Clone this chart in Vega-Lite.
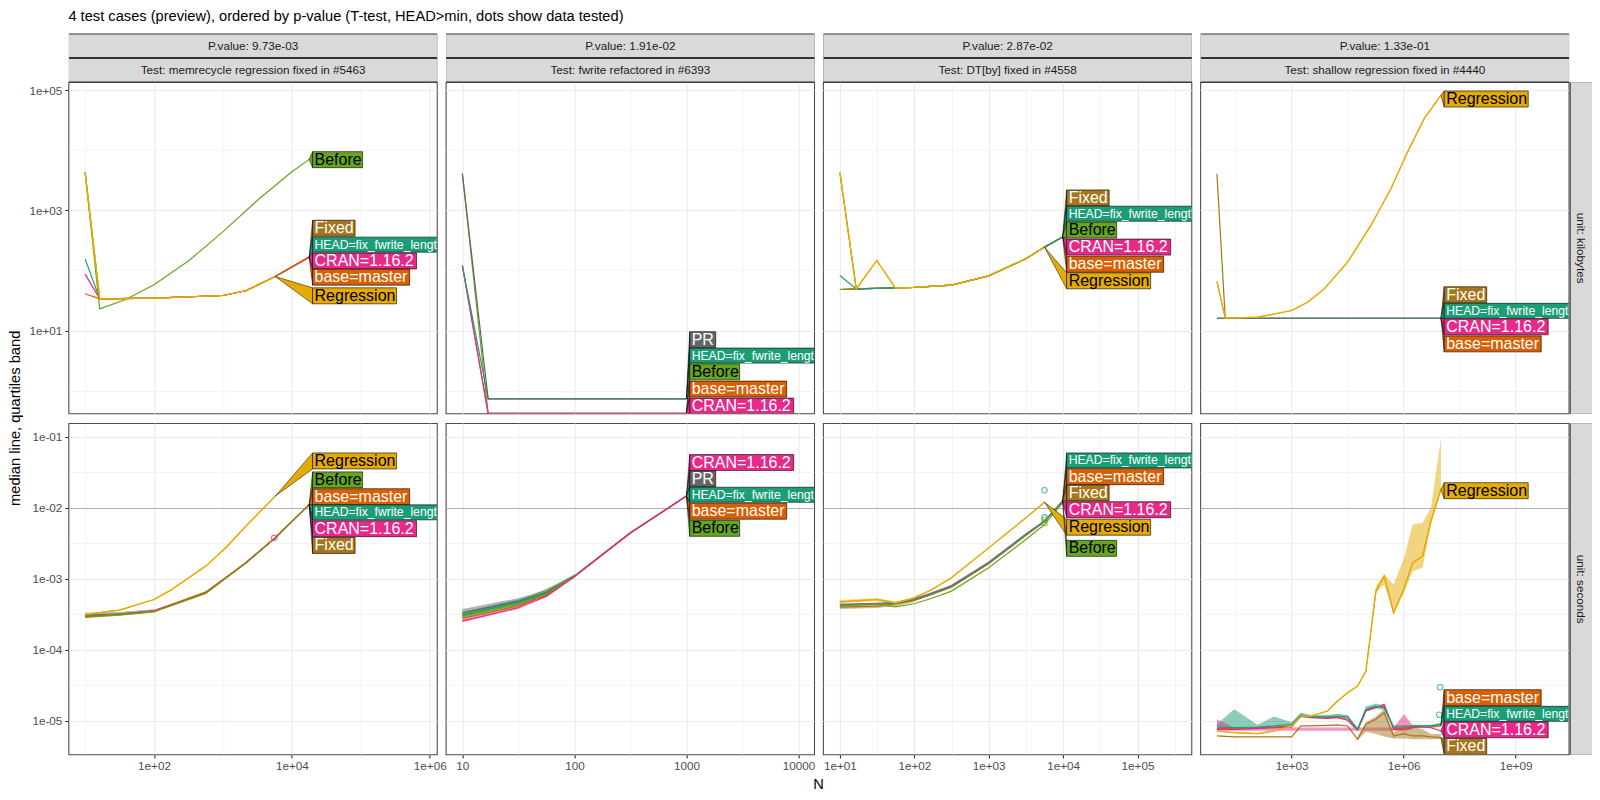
{
"$schema": "https://vega.github.io/schema/vega-lite/v6.json",
"padding": {"left": 6.4, "top": 9, "right": 5, "bottom": 5},
"background": "white",
"title": {"text": "4 test cases (preview), ordered by p-value (T-test, HEAD>min, dots show data tested)", "anchor": "start", "frame": "group", "fontSize": 14.67, "font": "Liberation Sans", "fontWeight": "normal", "color": "black", "baseline": "alphabetic", "offset": 3.8},
"config": {
  "font": "Liberation Sans",
  "view": {"stroke": "#4A4A4A", "strokeWidth": 1.07},
  "axis": {"domain": false, "gridColor": "#EBEBEB", "tickColor": "#333333", "tickSize": 3.7, "tickWidth": 1.07,
    "labelFont": "Liberation Sans", "labelFontSize": 11.7, "labelColor": "#4D4D4D", "labelOverlap": false,
    "labelFlush": false, "labelBound": false, "labelPadding": 2.9,
    "titleFont": "Liberation Sans", "titleFontWeight": "normal", "titleColor": "black", "titleFontSize": 14.67}
},
"datasets": {
"lines": [
{"p":1,"u":"kb","v":"Fixed","N":10,"y":4360},{"p":1,"u":"kb","v":"Fixed","N":16.3,"y":33.7},{"p":1,"u":"kb","v":"Fixed","N":100,"y":34.6},{"p":1,"u":"kb","v":"Fixed","N":1000,"y":38.3},{"p":1,"u":"kb","v":"Fixed","N":2148,"y":46},{"p":1,"u":"kb","v":"Fixed","N":5728,"y":79.4},{"p":1,"u":"kb","v":"Fixed","N":17820,"y":166.7},
{"p":1,"u":"kb","v":"HEAD=fix_fwrite_length","N":10,"y":156},{"p":1,"u":"kb","v":"HEAD=fix_fwrite_length","N":16.3,"y":33.7},{"p":1,"u":"kb","v":"HEAD=fix_fwrite_length","N":100,"y":34.6},{"p":1,"u":"kb","v":"HEAD=fix_fwrite_length","N":1000,"y":38.3},{"p":1,"u":"kb","v":"HEAD=fix_fwrite_length","N":2148,"y":46},{"p":1,"u":"kb","v":"HEAD=fix_fwrite_length","N":5728,"y":79.4},{"p":1,"u":"kb","v":"HEAD=fix_fwrite_length","N":17820,"y":166.7},
{"p":1,"u":"kb","v":"CRAN=1.16.2","N":10,"y":87},{"p":1,"u":"kb","v":"CRAN=1.16.2","N":16.3,"y":33.7},{"p":1,"u":"kb","v":"CRAN=1.16.2","N":100,"y":34.6},{"p":1,"u":"kb","v":"CRAN=1.16.2","N":1000,"y":38.3},{"p":1,"u":"kb","v":"CRAN=1.16.2","N":2148,"y":46},{"p":1,"u":"kb","v":"CRAN=1.16.2","N":5728,"y":79.4},{"p":1,"u":"kb","v":"CRAN=1.16.2","N":17820,"y":166.7},
{"p":1,"u":"kb","v":"base=master","N":10,"y":41},{"p":1,"u":"kb","v":"base=master","N":16.3,"y":33.7},{"p":1,"u":"kb","v":"base=master","N":100,"y":34.6},{"p":1,"u":"kb","v":"base=master","N":1000,"y":38.3},{"p":1,"u":"kb","v":"base=master","N":2148,"y":46},{"p":1,"u":"kb","v":"base=master","N":5728,"y":79.4},{"p":1,"u":"kb","v":"base=master","N":17820,"y":166.7},
{"p":1,"u":"kb","v":"Before","N":10,"y":4360},{"p":1,"u":"kb","v":"Before","N":16.3,"y":23},{"p":1,"u":"kb","v":"Before","N":38.9,"y":32.9},{"p":1,"u":"kb","v":"Before","N":100,"y":57.7},{"p":1,"u":"kb","v":"Before","N":323,"y":146.8},{"p":1,"u":"kb","v":"Before","N":983,"y":435.5},{"p":1,"u":"kb","v":"Before","N":3350,"y":1563},{"p":1,"u":"kb","v":"Before","N":9886,"y":4355},{"p":1,"u":"kb","v":"Before","N":17820,"y":7079},
{"p":1,"u":"kb","v":"Regression","N":10,"y":4360},{"p":1,"u":"kb","v":"Regression","N":16.3,"y":33.7},{"p":1,"u":"kb","v":"Regression","N":100,"y":34.6},{"p":1,"u":"kb","v":"Regression","N":1000,"y":38.3},{"p":1,"u":"kb","v":"Regression","N":2148,"y":46},{"p":1,"u":"kb","v":"Regression","N":5728,"y":79.4},

{"p":1,"u":"s","v":"HEAD=fix_fwrite_length","N":10,"y":3.06e-4},{"p":1,"u":"s","v":"HEAD=fix_fwrite_length","N":31.6,"y":3.2e-4},{"p":1,"u":"s","v":"HEAD=fix_fwrite_length","N":100,"y":3.5e-4},{"p":1,"u":"s","v":"HEAD=fix_fwrite_length","N":563.6,"y":6.3e-4},{"p":1,"u":"s","v":"HEAD=fix_fwrite_length","N":2148,"y":1.67e-3},{"p":1,"u":"s","v":"HEAD=fix_fwrite_length","N":5728,"y":3.76e-3},{"p":1,"u":"s","v":"HEAD=fix_fwrite_length","N":17820,"y":0.01104},
{"p":1,"u":"s","v":"CRAN=1.16.2","N":10,"y":2.97e-4},{"p":1,"u":"s","v":"CRAN=1.16.2","N":31.6,"y":3.16e-4},{"p":1,"u":"s","v":"CRAN=1.16.2","N":100,"y":3.55e-4},{"p":1,"u":"s","v":"CRAN=1.16.2","N":563.6,"y":6.4e-4},{"p":1,"u":"s","v":"CRAN=1.16.2","N":2148,"y":1.68e-3},{"p":1,"u":"s","v":"CRAN=1.16.2","N":5728,"y":3.75e-3},{"p":1,"u":"s","v":"CRAN=1.16.2","N":17820,"y":0.01104},
{"p":1,"u":"s","v":"base=master","N":10,"y":2.9e-4},{"p":1,"u":"s","v":"base=master","N":31.6,"y":3.12e-4},{"p":1,"u":"s","v":"base=master","N":100,"y":3.45e-4},{"p":1,"u":"s","v":"base=master","N":563.6,"y":6.5e-4},{"p":1,"u":"s","v":"base=master","N":2148,"y":1.66e-3},{"p":1,"u":"s","v":"base=master","N":5728,"y":3.74e-3},{"p":1,"u":"s","v":"base=master","N":17820,"y":0.01104},
{"p":1,"u":"s","v":"Before","N":10,"y":2.85e-4},{"p":1,"u":"s","v":"Before","N":31.6,"y":3.05e-4},{"p":1,"u":"s","v":"Before","N":100,"y":3.4e-4},{"p":1,"u":"s","v":"Before","N":563.6,"y":6.2e-4},{"p":1,"u":"s","v":"Before","N":2148,"y":1.65e-3},{"p":1,"u":"s","v":"Before","N":5728,"y":3.72e-3},{"p":1,"u":"s","v":"Before","N":17820,"y":0.01104},
{"p":1,"u":"s","v":"Fixed","N":10,"y":2.95e-4},{"p":1,"u":"s","v":"Fixed","N":31.6,"y":3.18e-4},{"p":1,"u":"s","v":"Fixed","N":100,"y":3.48e-4},{"p":1,"u":"s","v":"Fixed","N":563.6,"y":6.35e-4},{"p":1,"u":"s","v":"Fixed","N":2148,"y":1.67e-3},{"p":1,"u":"s","v":"Fixed","N":5728,"y":3.77e-3},{"p":1,"u":"s","v":"Fixed","N":17820,"y":0.01104},
{"p":1,"u":"s","v":"Regression","N":10,"y":3.14e-4},{"p":1,"u":"s","v":"Regression","N":31.6,"y":3.6e-4},{"p":1,"u":"s","v":"Regression","N":100,"y":5.09e-4},{"p":1,"u":"s","v":"Regression","N":165.6,"y":6.67e-4},{"p":1,"u":"s","v":"Regression","N":563.6,"y":1.5e-3},{"p":1,"u":"s","v":"Regression","N":1099,"y":2.72e-3},{"p":1,"u":"s","v":"Regression","N":2148,"y":5.48e-3},{"p":1,"u":"s","v":"Regression","N":5728,"y":0.01449},

{"p":2,"u":"kb","v":"Before","N":10,"y":4090},{"p":2,"u":"kb","v":"Before","N":17,"y":0.41},{"p":2,"u":"kb","v":"Before","N":1000,"y":0.41},
{"p":2,"u":"kb","v":"base=master","N":10,"y":121},{"p":2,"u":"kb","v":"base=master","N":17,"y":0.41},{"p":2,"u":"kb","v":"base=master","N":1000,"y":0.41},
{"p":2,"u":"kb","v":"CRAN=1.16.2","N":10,"y":121},{"p":2,"u":"kb","v":"CRAN=1.16.2","N":17,"y":0.42},{"p":2,"u":"kb","v":"CRAN=1.16.2","N":1000,"y":0.42},
{"p":2,"u":"kb","v":"HEAD=fix_fwrite_length","N":10,"y":121},{"p":2,"u":"kb","v":"HEAD=fix_fwrite_length","N":17,"y":0.726},{"p":2,"u":"kb","v":"HEAD=fix_fwrite_length","N":1000,"y":0.726},
{"p":2,"u":"kb","v":"PR","N":10,"y":4090},{"p":2,"u":"kb","v":"PR","N":17,"y":0.726},{"p":2,"u":"kb","v":"PR","N":1000,"y":0.726},

{"p":2,"u":"s","v":"PR","N":10,"y":3.311e-4},{"p":2,"u":"s","v":"PR","N":31.6,"y":4.831e-4},{"p":2,"u":"s","v":"PR","N":56.2,"y":6.31e-4},{"p":2,"u":"s","v":"PR","N":100,"y":1.086e-3},{"p":2,"u":"s","v":"PR","N":316,"y":4.426e-3},{"p":2,"u":"s","v":"PR","N":1000,"y":0.01452},
{"p":2,"u":"s","v":"HEAD=fix_fwrite_length","N":10,"y":3.062e-4},{"p":2,"u":"s","v":"HEAD=fix_fwrite_length","N":31.6,"y":4.677e-4},{"p":2,"u":"s","v":"HEAD=fix_fwrite_length","N":56.2,"y":6.2e-4},{"p":2,"u":"s","v":"HEAD=fix_fwrite_length","N":100,"y":1.09e-3},{"p":2,"u":"s","v":"HEAD=fix_fwrite_length","N":316,"y":4.45e-3},{"p":2,"u":"s","v":"HEAD=fix_fwrite_length","N":1000,"y":0.01452},
{"p":2,"u":"s","v":"Before","N":10,"y":2.972e-4},{"p":2,"u":"s","v":"Before","N":31.6,"y":4.365e-4},{"p":2,"u":"s","v":"Before","N":56.2,"y":5.998e-4},{"p":2,"u":"s","v":"Before","N":100,"y":1.08e-3},{"p":2,"u":"s","v":"Before","N":316,"y":4.4e-3},{"p":2,"u":"s","v":"Before","N":1000,"y":0.01452},
{"p":2,"u":"s","v":"base=master","N":10,"y":2.754e-4},{"p":2,"u":"s","v":"base=master","N":31.6,"y":4.169e-4},{"p":2,"u":"s","v":"base=master","N":56.2,"y":5.8e-4},{"p":2,"u":"s","v":"base=master","N":100,"y":1.07e-3},{"p":2,"u":"s","v":"base=master","N":316,"y":4.38e-3},{"p":2,"u":"s","v":"base=master","N":1000,"y":0.01452},
{"p":2,"u":"s","v":"CRAN=1.16.2","N":10,"y":2.523e-4},{"p":2,"u":"s","v":"CRAN=1.16.2","N":31.6,"y":3.89e-4},{"p":2,"u":"s","v":"CRAN=1.16.2","N":56.2,"y":5.623e-4},{"p":2,"u":"s","v":"CRAN=1.16.2","N":100,"y":1.06e-3},{"p":2,"u":"s","v":"CRAN=1.16.2","N":316,"y":4.4e-3},{"p":2,"u":"s","v":"CRAN=1.16.2","N":1000,"y":0.01452},

{"p":3,"u":"kb","v":"Fixed","N":10,"y":4246},{"p":3,"u":"kb","v":"Fixed","N":16.6,"y":49.43},{"p":3,"u":"kb","v":"Fixed","N":99.1,"y":52.12},{"p":3,"u":"kb","v":"Fixed","N":316,"y":57.02},{"p":3,"u":"kb","v":"Fixed","N":1000,"y":81.47},{"p":3,"u":"kb","v":"Fixed","N":3155,"y":156.3},{"p":3,"u":"kb","v":"Fixed","N":5623,"y":244.9},{"p":3,"u":"kb","v":"Fixed","N":9863,"y":359.7},
{"p":3,"u":"kb","v":"CRAN=1.16.2","N":10,"y":48.2},{"p":3,"u":"kb","v":"CRAN=1.16.2","N":16.6,"y":49.43},{"p":3,"u":"kb","v":"CRAN=1.16.2","N":99.1,"y":52.12},{"p":3,"u":"kb","v":"CRAN=1.16.2","N":316,"y":57.02},{"p":3,"u":"kb","v":"CRAN=1.16.2","N":1000,"y":81.47},{"p":3,"u":"kb","v":"CRAN=1.16.2","N":3155,"y":156.3},{"p":3,"u":"kb","v":"CRAN=1.16.2","N":5623,"y":244.9},{"p":3,"u":"kb","v":"CRAN=1.16.2","N":9863,"y":359.7},
{"p":3,"u":"kb","v":"base=master","N":10,"y":48.2},{"p":3,"u":"kb","v":"base=master","N":16.6,"y":49.43},{"p":3,"u":"kb","v":"base=master","N":99.1,"y":52.12},{"p":3,"u":"kb","v":"base=master","N":316,"y":57.02},{"p":3,"u":"kb","v":"base=master","N":1000,"y":81.47},{"p":3,"u":"kb","v":"base=master","N":3155,"y":156.3},{"p":3,"u":"kb","v":"base=master","N":5623,"y":244.9},{"p":3,"u":"kb","v":"base=master","N":9863,"y":359.7},
{"p":3,"u":"kb","v":"Before","N":10,"y":48.2},{"p":3,"u":"kb","v":"Before","N":16.6,"y":49.43},{"p":3,"u":"kb","v":"Before","N":99.1,"y":52.12},{"p":3,"u":"kb","v":"Before","N":316,"y":57.02},{"p":3,"u":"kb","v":"Before","N":1000,"y":81.47},{"p":3,"u":"kb","v":"Before","N":3155,"y":156.3},{"p":3,"u":"kb","v":"Before","N":5623,"y":244.9},{"p":3,"u":"kb","v":"Before","N":9863,"y":359.7},
{"p":3,"u":"kb","v":"HEAD=fix_fwrite_length","N":10,"y":82.6},{"p":3,"u":"kb","v":"HEAD=fix_fwrite_length","N":16.6,"y":49.43},{"p":3,"u":"kb","v":"HEAD=fix_fwrite_length","N":99.1,"y":52.12},{"p":3,"u":"kb","v":"HEAD=fix_fwrite_length","N":316,"y":57.02},{"p":3,"u":"kb","v":"HEAD=fix_fwrite_length","N":1000,"y":81.47},{"p":3,"u":"kb","v":"HEAD=fix_fwrite_length","N":3155,"y":156.3},{"p":3,"u":"kb","v":"HEAD=fix_fwrite_length","N":5623,"y":244.9},{"p":3,"u":"kb","v":"HEAD=fix_fwrite_length","N":9863,"y":359.7},
{"p":3,"u":"kb","v":"Regression","N":10,"y":4246},{"p":3,"u":"kb","v":"Regression","N":16.6,"y":49.43},{"p":3,"u":"kb","v":"Regression","N":31.3,"y":146.9},{"p":3,"u":"kb","v":"Regression","N":55.8,"y":50.82},{"p":3,"u":"kb","v":"Regression","N":99.1,"y":52.12},{"p":3,"u":"kb","v":"Regression","N":316,"y":57.02},{"p":3,"u":"kb","v":"Regression","N":1000,"y":81.47},{"p":3,"u":"kb","v":"Regression","N":3155,"y":156.3},{"p":3,"u":"kb","v":"Regression","N":5623,"y":244.9},

{"p":3,"u":"s","v":"Fixed","N":10,"y":3.98e-4},{"p":3,"u":"s","v":"Fixed","N":31.3,"y":4.1e-4},{"p":3,"u":"s","v":"Fixed","N":55.8,"y":4.4e-4},{"p":3,"u":"s","v":"Fixed","N":99.1,"y":4.9e-4},{"p":3,"u":"s","v":"Fixed","N":173,"y":6.0e-4},{"p":3,"u":"s","v":"Fixed","N":316,"y":7.6e-4},{"p":3,"u":"s","v":"Fixed","N":1000,"y":1.62e-3},{"p":3,"u":"s","v":"Fixed","N":3155,"y":4.05e-3},{"p":3,"u":"s","v":"Fixed","N":5623,"y":6.3e-3},{"p":3,"u":"s","v":"Fixed","N":9863,"y":0.0123},
{"p":3,"u":"s","v":"base=master","N":10,"y":4.2e-4},{"p":3,"u":"s","v":"base=master","N":31.3,"y":4.4e-4},{"p":3,"u":"s","v":"base=master","N":55.8,"y":4.5e-4},{"p":3,"u":"s","v":"base=master","N":99.1,"y":5.0e-4},{"p":3,"u":"s","v":"base=master","N":173,"y":6.1e-4},{"p":3,"u":"s","v":"base=master","N":316,"y":7.7e-4},{"p":3,"u":"s","v":"base=master","N":1000,"y":1.65e-3},{"p":3,"u":"s","v":"base=master","N":3155,"y":4.1e-3},{"p":3,"u":"s","v":"base=master","N":5623,"y":6.35e-3},{"p":3,"u":"s","v":"base=master","N":9863,"y":0.0123},
{"p":3,"u":"s","v":"CRAN=1.16.2","N":10,"y":4.35e-4},{"p":3,"u":"s","v":"CRAN=1.16.2","N":31.3,"y":4.5e-4},{"p":3,"u":"s","v":"CRAN=1.16.2","N":55.8,"y":4.6e-4},{"p":3,"u":"s","v":"CRAN=1.16.2","N":99.1,"y":5.2e-4},{"p":3,"u":"s","v":"CRAN=1.16.2","N":173,"y":6.3e-4},{"p":3,"u":"s","v":"CRAN=1.16.2","N":316,"y":8.0e-4},{"p":3,"u":"s","v":"CRAN=1.16.2","N":1000,"y":1.70e-3},{"p":3,"u":"s","v":"CRAN=1.16.2","N":3155,"y":4.25e-3},{"p":3,"u":"s","v":"CRAN=1.16.2","N":5623,"y":6.5e-3},{"p":3,"u":"s","v":"CRAN=1.16.2","N":9863,"y":0.0123},
{"p":3,"u":"s","v":"HEAD=fix_fwrite_length","N":10,"y":4.276e-4},{"p":3,"u":"s","v":"HEAD=fix_fwrite_length","N":31.3,"y":4.426e-4},{"p":3,"u":"s","v":"HEAD=fix_fwrite_length","N":55.8,"y":4.571e-4},{"p":3,"u":"s","v":"HEAD=fix_fwrite_length","N":99.1,"y":5.093e-4},{"p":3,"u":"s","v":"HEAD=fix_fwrite_length","N":173,"y":6.2e-4},{"p":3,"u":"s","v":"HEAD=fix_fwrite_length","N":316,"y":7.834e-4},{"p":3,"u":"s","v":"HEAD=fix_fwrite_length","N":1000,"y":1.671e-3},{"p":3,"u":"s","v":"HEAD=fix_fwrite_length","N":3155,"y":4.178e-3},{"p":3,"u":"s","v":"HEAD=fix_fwrite_length","N":5623,"y":6.427e-3},{"p":3,"u":"s","v":"HEAD=fix_fwrite_length","N":9863,"y":0.0123},
{"p":3,"u":"s","v":"Before","N":10,"y":4.14e-4},{"p":3,"u":"s","v":"Before","N":31.3,"y":4.365e-4},{"p":3,"u":"s","v":"Before","N":55.8,"y":4.009e-4},{"p":3,"u":"s","v":"Before","N":99.1,"y":4.426e-4},{"p":3,"u":"s","v":"Before","N":173,"y":5.3e-4},{"p":3,"u":"s","v":"Before","N":316,"y":6.668e-4},{"p":3,"u":"s","v":"Before","N":1000,"y":1.419e-3},{"p":3,"u":"s","v":"Before","N":3155,"y":3.548e-3},{"p":3,"u":"s","v":"Before","N":5623,"y":5.768e-3},{"p":3,"u":"s","v":"Before","N":9863,"y":0.01167},
{"p":3,"u":"s","v":"Regression","N":10,"y":4.721e-4},{"p":3,"u":"s","v":"Regression","N":31.3,"y":5.093e-4},{"p":3,"u":"s","v":"Regression","N":55.8,"y":4.571e-4},{"p":3,"u":"s","v":"Regression","N":99.1,"y":5.37e-4},{"p":3,"u":"s","v":"Regression","N":173,"y":7.031e-4},{"p":3,"u":"s","v":"Regression","N":316,"y":1.026e-3},{"p":3,"u":"s","v":"Regression","N":1000,"y":2.71e-3},{"p":3,"u":"s","v":"Regression","N":3155,"y":7.161e-3},{"p":3,"u":"s","v":"Regression","N":5623,"y":0.01189},

{"p":4,"u":"kb","v":"Fixed","N":10,"y":4085},{"p":4,"u":"kb","v":"Fixed","N":16.7,"y":16.03},{"p":4,"u":"kb","v":"Fixed","N":1e7,"y":16.03},
{"p":4,"u":"kb","v":"base=master","N":10,"y":16.03},{"p":4,"u":"kb","v":"base=master","N":1e7,"y":16.03},
{"p":4,"u":"kb","v":"CRAN=1.16.2","N":10,"y":16.03},{"p":4,"u":"kb","v":"CRAN=1.16.2","N":1e7,"y":16.03},
{"p":4,"u":"kb","v":"HEAD=fix_fwrite_length","N":10,"y":16.03},{"p":4,"u":"kb","v":"HEAD=fix_fwrite_length","N":1e7,"y":16.03},
{"p":4,"u":"kb","v":"Regression","N":10,"y":65.6},{"p":4,"u":"kb","v":"Regression","N":16.7,"y":16.03},{"p":4,"u":"kb","v":"Regression","N":122.5,"y":16.67},{"p":4,"u":"kb","v":"Regression","N":1000,"y":21.53},{"p":4,"u":"kb","v":"Regression","N":2679,"y":29.65},{"p":4,"u":"kb","v":"Regression","N":7482,"y":49.43},{"p":4,"u":"kb","v":"Regression","N":31623,"y":137.7},{"p":4,"u":"kb","v":"Regression","N":133352,"y":562.3},{"p":4,"u":"kb","v":"Regression","N":457088,"y":2296},{"p":4,"u":"kb","v":"Regression","N":1276439,"y":9376},{"p":4,"u":"kb","v":"Regression","N":3572728,"y":33729},{"p":4,"u":"kb","v":"Regression","N":1e7,"y":82604},

{"p":4,"u":"s","v":"Fixed","N":10,"y":6.095e-6},{"p":4,"u":"s","v":"Fixed","N":29.2,"y":5.902e-6},{"p":4,"u":"s","v":"Fixed","N":122.5,"y":5.902e-6},{"p":4,"u":"s","v":"Fixed","N":342,"y":5.902e-6},{"p":4,"u":"s","v":"Fixed","N":1000,"y":5.902e-6},{"p":4,"u":"s","v":"Fixed","N":1778,"y":8.433e-6},{"p":4,"u":"s","v":"Fixed","N":3289,"y":8.433e-6},{"p":4,"u":"s","v":"Fixed","N":9204,"y":8.61e-6},{"p":4,"u":"s","v":"Fixed","N":17061,"y":8.71e-6},{"p":4,"u":"s","v":"Fixed","N":31623,"y":8.433e-6},{"p":4,"u":"s","v":"Fixed","N":58614,"y":5.47e-6},{"p":4,"u":"s","v":"Fixed","N":97949,"y":8.913e-6},{"p":4,"u":"s","v":"Fixed","N":181552,"y":1.047e-5},{"p":4,"u":"s","v":"Fixed","N":301995,"y":1.297e-5},{"p":4,"u":"s","v":"Fixed","N":539510,"y":6.095e-6},{"p":4,"u":"s","v":"Fixed","N":1037528,"y":6.577e-6},{"p":4,"u":"s","v":"Fixed","N":1741810,"y":6.095e-6},{"p":4,"u":"s","v":"Fixed","N":3228494,"y":6.095e-6},{"p":4,"u":"s","v":"Fixed","N":5382698,"y":5.902e-6},{"p":4,"u":"s","v":"Fixed","N":1e7,"y":5.768e-6},
{"p":4,"u":"s","v":"base=master","N":10,"y":7.8e-6},{"p":4,"u":"s","v":"base=master","N":29.2,"y":7.7e-6},{"p":4,"u":"s","v":"base=master","N":122.5,"y":8.0e-6},{"p":4,"u":"s","v":"base=master","N":342,"y":8.1e-6},{"p":4,"u":"s","v":"base=master","N":1000,"y":8.4e-6},{"p":4,"u":"s","v":"base=master","N":1778,"y":1.18e-5},{"p":4,"u":"s","v":"base=master","N":3289,"y":1.12e-5},{"p":4,"u":"s","v":"base=master","N":9204,"y":1.1e-5},{"p":4,"u":"s","v":"base=master","N":17061,"y":1.12e-5},{"p":4,"u":"s","v":"base=master","N":31623,"y":1.05e-5},{"p":4,"u":"s","v":"base=master","N":58614,"y":7.5e-6},{"p":4,"u":"s","v":"base=master","N":97949,"y":1.4e-5},{"p":4,"u":"s","v":"base=master","N":181552,"y":1.56e-5},{"p":4,"u":"s","v":"base=master","N":301995,"y":1.6e-5},{"p":4,"u":"s","v":"base=master","N":539510,"y":7.8e-6},{"p":4,"u":"s","v":"base=master","N":1037528,"y":7.7e-6},{"p":4,"u":"s","v":"base=master","N":1741810,"y":8.2e-6},{"p":4,"u":"s","v":"base=master","N":3228494,"y":8.3e-6},{"p":4,"u":"s","v":"base=master","N":5382698,"y":8.1e-6},{"p":4,"u":"s","v":"base=master","N":1e7,"y":8.433e-6},
{"p":4,"u":"s","v":"CRAN=1.16.2","N":10,"y":7.568e-6},{"p":4,"u":"s","v":"CRAN=1.16.2","N":29.2,"y":7.568e-6},{"p":4,"u":"s","v":"CRAN=1.16.2","N":122.5,"y":7.816e-6},{"p":4,"u":"s","v":"CRAN=1.16.2","N":342,"y":7.98e-6},{"p":4,"u":"s","v":"CRAN=1.16.2","N":1000,"y":8.147e-6},{"p":4,"u":"s","v":"CRAN=1.16.2","N":1778,"y":1.164e-5},{"p":4,"u":"s","v":"CRAN=1.16.2","N":3289,"y":1.104e-5},{"p":4,"u":"s","v":"CRAN=1.16.2","N":9204,"y":1.081e-5},{"p":4,"u":"s","v":"CRAN=1.16.2","N":17061,"y":1.104e-5},{"p":4,"u":"s","v":"CRAN=1.16.2","N":31623,"y":1.014e-5},{"p":4,"u":"s","v":"CRAN=1.16.2","N":58614,"y":7.328e-6},{"p":4,"u":"s","v":"CRAN=1.16.2","N":97949,"y":1.368e-5},{"p":4,"u":"s","v":"CRAN=1.16.2","N":181552,"y":1.524e-5},{"p":4,"u":"s","v":"CRAN=1.16.2","N":301995,"y":1.698e-5},{"p":4,"u":"s","v":"CRAN=1.16.2","N":539510,"y":7.568e-6},{"p":4,"u":"s","v":"CRAN=1.16.2","N":1037528,"y":7.568e-6},{"p":4,"u":"s","v":"CRAN=1.16.2","N":1741810,"y":7.98e-6},{"p":4,"u":"s","v":"CRAN=1.16.2","N":3228494,"y":8.147e-6},{"p":4,"u":"s","v":"CRAN=1.16.2","N":5382698,"y":7.98e-6},{"p":4,"u":"s","v":"CRAN=1.16.2","N":1e7,"y":7.161e-6},
{"p":4,"u":"s","v":"HEAD=fix_fwrite_length","N":10,"y":8.147e-6},{"p":4,"u":"s","v":"HEAD=fix_fwrite_length","N":29.2,"y":7.98e-6},{"p":4,"u":"s","v":"HEAD=fix_fwrite_length","N":122.5,"y":8.147e-6},{"p":4,"u":"s","v":"HEAD=fix_fwrite_length","N":342,"y":8.433e-6},{"p":4,"u":"s","v":"HEAD=fix_fwrite_length","N":1000,"y":8.913e-6},{"p":4,"u":"s","v":"HEAD=fix_fwrite_length","N":1778,"y":1.205e-5},{"p":4,"u":"s","v":"HEAD=fix_fwrite_length","N":3289,"y":1.13e-5},{"p":4,"u":"s","v":"HEAD=fix_fwrite_length","N":9204,"y":1.13e-5},{"p":4,"u":"s","v":"HEAD=fix_fwrite_length","N":17061,"y":1.164e-5},{"p":4,"u":"s","v":"HEAD=fix_fwrite_length","N":31623,"y":1.13e-5},{"p":4,"u":"s","v":"HEAD=fix_fwrite_length","N":58614,"y":7.568e-6},{"p":4,"u":"s","v":"HEAD=fix_fwrite_length","N":97949,"y":1.445e-5},{"p":4,"u":"s","v":"HEAD=fix_fwrite_length","N":181552,"y":1.607e-5},{"p":4,"u":"s","v":"HEAD=fix_fwrite_length","N":301995,"y":1.524e-5},{"p":4,"u":"s","v":"HEAD=fix_fwrite_length","N":539510,"y":8.147e-6},{"p":4,"u":"s","v":"HEAD=fix_fwrite_length","N":1037528,"y":8.147e-6},{"p":4,"u":"s","v":"HEAD=fix_fwrite_length","N":1741810,"y":8.433e-6},{"p":4,"u":"s","v":"HEAD=fix_fwrite_length","N":3228494,"y":8.433e-6},{"p":4,"u":"s","v":"HEAD=fix_fwrite_length","N":5382698,"y":8.433e-6},{"p":4,"u":"s","v":"HEAD=fix_fwrite_length","N":1e7,"y":8.913e-6},
{"p":4,"u":"s","v":"Regression","N":10,"y":7.161e-6},{"p":4,"u":"s","v":"Regression","N":29.2,"y":6.792e-6},{"p":4,"u":"s","v":"Regression","N":122.5,"y":6.577e-6},{"p":4,"u":"s","v":"Regression","N":342,"y":7.161e-6},{"p":4,"u":"s","v":"Regression","N":1000,"y":8.433e-6},{"p":4,"u":"s","v":"Regression","N":1778,"y":1.164e-5},{"p":4,"u":"s","v":"Regression","N":3289,"y":1.164e-5},{"p":4,"u":"s","v":"Regression","N":9204,"y":1.368e-5},{"p":4,"u":"s","v":"Regression","N":17061,"y":1.892e-5},{"p":4,"u":"s","v":"Regression","N":31623,"y":2.477e-5},{"p":4,"u":"s","v":"Regression","N":58614,"y":3.069e-5},{"p":4,"u":"s","v":"Regression","N":97949,"y":4.989e-5},{"p":4,"u":"s","v":"Regression","N":181552,"y":6.653e-4},{"p":4,"u":"s","v":"Regression","N":301995,"y":1.081e-3},{"p":4,"u":"s","v":"Regression","N":539510,"y":3.296e-4},{"p":4,"u":"s","v":"Regression","N":1037528,"y":7.413e-4},{"p":4,"u":"s","v":"Regression","N":1741810,"y":1.671e-3},{"p":4,"u":"s","v":"Regression","N":3228494,"y":2.07e-3},{"p":4,"u":"s","v":"Regression","N":5382698,"y":6.427e-3},{"p":4,"u":"s","v":"Regression","N":1e7,"y":0.01795}
],
"bands": [
{"p":1,"u":"s","v":"HEAD=fix_fwrite_length","N":10,"y":2.9e-4,"y2":3.3e-4},{"p":1,"u":"s","v":"HEAD=fix_fwrite_length","N":31.6,"y":3.05e-4,"y2":3.4e-4},{"p":1,"u":"s","v":"HEAD=fix_fwrite_length","N":100,"y":3.4e-4,"y2":3.7e-4},
{"p":2,"u":"s","v":"PR","N":10,"y":3.0e-4,"y2":3.75e-4},{"p":2,"u":"s","v":"PR","N":31.6,"y":4.4e-4,"y2":5.3e-4},{"p":2,"u":"s","v":"PR","N":56.2,"y":5.8e-4,"y2":6.9e-4},{"p":2,"u":"s","v":"PR","N":100,"y":1.04e-3,"y2":1.13e-3},
{"p":2,"u":"s","v":"HEAD=fix_fwrite_length","N":10,"y":2.8e-4,"y2":3.4e-4},{"p":2,"u":"s","v":"HEAD=fix_fwrite_length","N":31.6,"y":4.3e-4,"y2":5.1e-4},{"p":2,"u":"s","v":"HEAD=fix_fwrite_length","N":56.2,"y":5.8e-4,"y2":6.9e-4},{"p":2,"u":"s","v":"HEAD=fix_fwrite_length","N":100,"y":1.04e-3,"y2":1.15e-3},
{"p":2,"u":"s","v":"Before","N":10,"y":2.7e-4,"y2":3.3e-4},{"p":2,"u":"s","v":"Before","N":31.6,"y":4.0e-4,"y2":4.8e-4},{"p":2,"u":"s","v":"Before","N":100,"y":1.03e-3,"y2":1.1e-3},
{"p":2,"u":"s","v":"CRAN=1.16.2","N":10,"y":2.45e-4,"y2":2.7e-4},{"p":2,"u":"s","v":"CRAN=1.16.2","N":31.6,"y":3.75e-4,"y2":4.1e-4},{"p":2,"u":"s","v":"CRAN=1.16.2","N":100,"y":1.03e-3,"y2":1.08e-3},
{"p":3,"u":"s","v":"Fixed","N":10,"y":3.75e-4,"y2":4.4e-4},{"p":3,"u":"s","v":"Fixed","N":31.3,"y":3.85e-4,"y2":4.45e-4},{"p":3,"u":"s","v":"Fixed","N":55.8,"y":4.1e-4,"y2":4.6e-4},{"p":3,"u":"s","v":"Fixed","N":99.1,"y":4.7e-4,"y2":5.1e-4},
{"p":3,"u":"s","v":"Regression","N":10,"y":4.5e-4,"y2":5.0e-4},{"p":3,"u":"s","v":"Regression","N":31.3,"y":4.8e-4,"y2":5.3e-4},{"p":3,"u":"s","v":"Regression","N":55.8,"y":4.4e-4,"y2":4.8e-4},
{"p":4,"u":"s","v":"Regression","N":97949,"y":4.5e-5,"y2":5.5e-5},{"p":4,"u":"s","v":"Regression","N":181552,"y":6.31e-4,"y2":7.94e-4},{"p":4,"u":"s","v":"Regression","N":301995,"y":8.26e-4,"y2":1.15e-3},{"p":4,"u":"s","v":"Regression","N":539510,"y":3.296e-4,"y2":8.26e-4},{"p":4,"u":"s","v":"Regression","N":1037528,"y":6.31e-4,"y2":1.963e-3},{"p":4,"u":"s","v":"Regression","N":1741810,"y":1.274e-3,"y2":5.78e-3},{"p":4,"u":"s","v":"Regression","N":3228494,"y":1.419e-3,"y2":6.095e-3},{"p":4,"u":"s","v":"Regression","N":5382698,"y":5.78e-3,"y2":9.9e-3},{"p":4,"u":"s","v":"Regression","N":1e7,"y":0.01795,"y2":0.0957},
{"p":4,"u":"s","v":"HEAD=fix_fwrite_length","N":10,"y":7.6e-6,"y2":9.0e-6},{"p":4,"u":"s","v":"HEAD=fix_fwrite_length","N":29.2,"y":7.5e-6,"y2":1.445e-5},{"p":4,"u":"s","v":"HEAD=fix_fwrite_length","N":122.5,"y":7.6e-6,"y2":8.8e-6},{"p":4,"u":"s","v":"HEAD=fix_fwrite_length","N":342,"y":7.8e-6,"y2":1.15e-5},{"p":4,"u":"s","v":"HEAD=fix_fwrite_length","N":1000,"y":8.3e-6,"y2":9.5e-6},{"p":4,"u":"s","v":"HEAD=fix_fwrite_length","N":1778,"y":1.1e-5,"y2":1.3e-5},{"p":4,"u":"s","v":"HEAD=fix_fwrite_length","N":3289,"y":1.08e-5,"y2":1.2e-5},{"p":4,"u":"s","v":"HEAD=fix_fwrite_length","N":9204,"y":1.08e-5,"y2":1.2e-5},{"p":4,"u":"s","v":"HEAD=fix_fwrite_length","N":17061,"y":1.1e-5,"y2":1.25e-5},{"p":4,"u":"s","v":"HEAD=fix_fwrite_length","N":31623,"y":1.08e-5,"y2":1.2e-5},{"p":4,"u":"s","v":"HEAD=fix_fwrite_length","N":58614,"y":7.3e-6,"y2":8.0e-6},{"p":4,"u":"s","v":"HEAD=fix_fwrite_length","N":97949,"y":1.35e-5,"y2":1.6e-5},{"p":4,"u":"s","v":"HEAD=fix_fwrite_length","N":181552,"y":1.5e-5,"y2":1.75e-5},{"p":4,"u":"s","v":"HEAD=fix_fwrite_length","N":301995,"y":1.4e-5,"y2":1.65e-5},{"p":4,"u":"s","v":"HEAD=fix_fwrite_length","N":539510,"y":7.8e-6,"y2":8.6e-6},{"p":4,"u":"s","v":"HEAD=fix_fwrite_length","N":1037528,"y":7.8e-6,"y2":8.6e-6},{"p":4,"u":"s","v":"HEAD=fix_fwrite_length","N":1741810,"y":8.1e-6,"y2":8.8e-6},{"p":4,"u":"s","v":"HEAD=fix_fwrite_length","N":3228494,"y":8.1e-6,"y2":8.8e-6},{"p":4,"u":"s","v":"HEAD=fix_fwrite_length","N":5382698,"y":8.1e-6,"y2":8.8e-6},{"p":4,"u":"s","v":"HEAD=fix_fwrite_length","N":1e7,"y":8.5e-6,"y2":9.4e-6},
{"p":4,"u":"s","v":"CRAN=1.16.2","N":10,"y":7.2e-6,"y2":1.05e-5},{"p":4,"u":"s","v":"CRAN=1.16.2","N":29.2,"y":7.2e-6,"y2":8.0e-6},{"p":4,"u":"s","v":"CRAN=1.16.2","N":539510,"y":7.2e-6,"y2":8.0e-6},{"p":4,"u":"s","v":"CRAN=1.16.2","N":1037528,"y":7.2e-6,"y2":1.23e-5},{"p":4,"u":"s","v":"CRAN=1.16.2","N":1741810,"y":7.5e-6,"y2":8.5e-6},
{"p":4,"u":"s","v":"Fixed","N":58614,"y":5.3e-6,"y2":6.0e-6},{"p":4,"u":"s","v":"Fixed","N":97949,"y":7.0e-6,"y2":9.5e-6},{"p":4,"u":"s","v":"Fixed","N":181552,"y":6.5e-6,"y2":1.15e-5},{"p":4,"u":"s","v":"Fixed","N":301995,"y":6.0e-6,"y2":1.45e-5},{"p":4,"u":"s","v":"Fixed","N":539510,"y":5.6e-6,"y2":6.8e-6},{"p":4,"u":"s","v":"Fixed","N":1037528,"y":5.6e-6,"y2":8.6e-6},{"p":4,"u":"s","v":"Fixed","N":1741810,"y":5.5e-6,"y2":8.2e-6},{"p":4,"u":"s","v":"Fixed","N":3228494,"y":5.5e-6,"y2":7.6e-6},{"p":4,"u":"s","v":"Fixed","N":5382698,"y":5.5e-6,"y2":6.5e-6},{"p":4,"u":"s","v":"Fixed","N":1e7,"y":5.5e-6,"y2":6.5e-6}
],
"dots": [
{"p":1,"u":"s","v":"CRAN=1.16.2","N":5534,"y":3.75e-3},
{"p":3,"u":"s","v":"HEAD=fix_fwrite_length","N":5623,"y":0.01758},{"p":3,"u":"s","v":"HEAD=fix_fwrite_length","N":5623,"y":7.295e-3},{"p":3,"u":"s","v":"Before","N":5623,"y":6.761e-3},{"p":3,"u":"s","v":"Before","N":5623,"y":6.067e-3},
{"p":4,"u":"s","v":"HEAD=fix_fwrite_length","N":9.5e6,"y":2.965e-5},{"p":4,"u":"s","v":"HEAD=fix_fwrite_length","N":9.0e6,"y":1.216e-5}
],
"labels": [
{"p":1,"u":"kb","v":"Before","N":19950,"y":6998},{"p":1,"u":"kb","v":"Fixed","N":19950,"y":504.7},{"p":1,"u":"kb","v":"HEAD=fix_fwrite_length","N":19950,"y":269.2},{"p":1,"u":"kb","v":"CRAN=1.16.2","N":19950,"y":143.9},{"p":1,"u":"kb","v":"base=master","N":19950,"y":77.27},{"p":1,"u":"kb","v":"Regression","N":19950,"y":37.84},
{"p":1,"u":"s","v":"Regression","N":19950,"y":0.04539},{"p":1,"u":"s","v":"Before","N":19950,"y":0.02455},{"p":1,"u":"s","v":"base=master","N":19950,"y":0.01422},{"p":1,"u":"s","v":"HEAD=fix_fwrite_length","N":19950,"y":0.00857},{"p":1,"u":"s","v":"CRAN=1.16.2","N":19950,"y":0.005047},{"p":1,"u":"s","v":"Fixed","N":19950,"y":0.002931},
{"p":2,"u":"kb","v":"PR","N":1069,"y":7.031},{"p":2,"u":"kb","v":"HEAD=fix_fwrite_length","N":1069,"y":3.828},{"p":2,"u":"kb","v":"Before","N":1069,"y":2.051},{"p":2,"u":"kb","v":"base=master","N":1069,"y":1.059},{"p":2,"u":"kb","v":"CRAN=1.16.2","N":1069,"y":0.5521},
{"p":2,"u":"s","v":"CRAN=1.16.2","N":1069,"y":0.04305},{"p":2,"u":"s","v":"PR","N":1069,"y":0.02535},{"p":2,"u":"s","v":"HEAD=fix_fwrite_length","N":1069,"y":0.01517},{"p":2,"u":"s","v":"base=master","N":1069,"y":0.008892},{"p":2,"u":"s","v":"Before","N":1069,"y":0.005105},
{"p":3,"u":"kb","v":"Fixed","N":11170,"y":1614},{"p":3,"u":"kb","v":"HEAD=fix_fwrite_length","N":11170,"y":881},{"p":3,"u":"kb","v":"Before","N":11170,"y":469.9},{"p":3,"u":"kb","v":"CRAN=1.16.2","N":11170,"y":244.9},{"p":3,"u":"kb","v":"base=master","N":11170,"y":126.8},{"p":3,"u":"kb","v":"Regression","N":11170,"y":67.3},
{"p":3,"u":"s","v":"HEAD=fix_fwrite_length","N":11170,"y":0.04613},{"p":3,"u":"s","v":"base=master","N":11170,"y":0.02723},{"p":3,"u":"s","v":"Fixed","N":11170,"y":0.01611},{"p":3,"u":"s","v":"CRAN=1.16.2","N":11170,"y":0.009333},{"p":3,"u":"s","v":"Regression","N":11170,"y":0.005297},{"p":3,"u":"s","v":"Before","N":11170,"y":0.002667},
{"p":4,"u":"kb","v":"Regression","N":12250000,"y":71610},{"p":4,"u":"kb","v":"Fixed","N":12250000,"y":39.36},{"p":4,"u":"kb","v":"HEAD=fix_fwrite_length","N":12250000,"y":21.28},{"p":4,"u":"kb","v":"CRAN=1.16.2","N":12250000,"y":11.56},{"p":4,"u":"kb","v":"base=master","N":12250000,"y":5.998},
{"p":4,"u":"s","v":"Regression","N":12250000,"y":0.0173},{"p":4,"u":"s","v":"base=master","N":12250000,"y":2.109e-5},{"p":4,"u":"s","v":"HEAD=fix_fwrite_length","N":12250000,"y":1.25e-5},{"p":4,"u":"s","v":"CRAN=1.16.2","N":12250000,"y":7.447e-6},{"p":4,"u":"s","v":"Fixed","N":12250000,"y":4.335e-6}
],
"arrows": [
{"p":1,"u":"kb","v":"Before","N":17820,"y":7079,"y2":7079},{"p":1,"u":"kb","v":"Before","N":19950,"y":5149,"y2":9513},
{"p":1,"u":"kb","v":"Fixed","N":17820,"y":166.7,"y2":166.7},{"p":1,"u":"kb","v":"Fixed","N":19950,"y":371.3,"y2":686},
{"p":1,"u":"kb","v":"HEAD=fix_fwrite_length","N":17820,"y":166.7,"y2":166.7},{"p":1,"u":"kb","v":"HEAD=fix_fwrite_length","N":19950,"y":201.8,"y2":358.9},
{"p":1,"u":"kb","v":"CRAN=1.16.2","N":17820,"y":166.7,"y2":166.7},{"p":1,"u":"kb","v":"CRAN=1.16.2","N":19950,"y":105.9,"y2":195.6},
{"p":1,"u":"kb","v":"base=master","N":17820,"y":166.7,"y2":166.7},{"p":1,"u":"kb","v":"base=master","N":19950,"y":56.85,"y2":105},
{"p":1,"u":"kb","v":"Regression","N":5728,"y":79.43,"y2":79.43},{"p":1,"u":"kb","v":"Regression","N":19950,"y":27.85,"y2":51.43},
{"p":1,"u":"s","v":"Regression","N":5728,"y":0.01449,"y2":0.01449},{"p":1,"u":"s","v":"Regression","N":19950,"y":0.03503,"y2":0.05882},
{"p":1,"u":"s","v":"Before","N":17820,"y":0.01104,"y2":0.01104},{"p":1,"u":"s","v":"Before","N":19950,"y":0.01895,"y2":0.0318},
{"p":1,"u":"s","v":"base=master","N":17820,"y":0.01104,"y2":0.01104},{"p":1,"u":"s","v":"base=master","N":19950,"y":0.01098,"y2":0.01843},
{"p":1,"u":"s","v":"HEAD=fix_fwrite_length","N":17820,"y":0.01104,"y2":0.01104},{"p":1,"u":"s","v":"HEAD=fix_fwrite_length","N":19950,"y":0.006722,"y2":0.01093},
{"p":1,"u":"s","v":"CRAN=1.16.2","N":17820,"y":0.01104,"y2":0.01104},{"p":1,"u":"s","v":"CRAN=1.16.2","N":19950,"y":0.003895,"y2":0.006539},
{"p":1,"u":"s","v":"Fixed","N":17820,"y":0.01104,"y2":0.01104},{"p":1,"u":"s","v":"Fixed","N":19950,"y":0.002262,"y2":0.003797},
{"p":2,"u":"kb","v":"PR","N":1000,"y":0.7261,"y2":0.7261},{"p":2,"u":"kb","v":"PR","N":1069,"y":5.172,"y2":9.557},
{"p":2,"u":"kb","v":"HEAD=fix_fwrite_length","N":1000,"y":0.7261,"y2":0.7261},{"p":2,"u":"kb","v":"HEAD=fix_fwrite_length","N":1069,"y":2.871,"y2":5.105},
{"p":2,"u":"kb","v":"Before","N":1000,"y":0.41,"y2":0.41},{"p":2,"u":"kb","v":"Before","N":1069,"y":1.509,"y2":2.788},
{"p":2,"u":"kb","v":"base=master","N":1000,"y":0.41,"y2":0.41},{"p":2,"u":"kb","v":"base=master","N":1069,"y":0.7791,"y2":1.44},
{"p":2,"u":"kb","v":"CRAN=1.16.2","N":1000,"y":0.42,"y2":0.42},{"p":2,"u":"kb","v":"CRAN=1.16.2","N":1069,"y":0.4062,"y2":0.7503},
{"p":2,"u":"s","v":"CRAN=1.16.2","N":1000,"y":0.01452,"y2":0.01452},{"p":2,"u":"s","v":"CRAN=1.16.2","N":1069,"y":0.03322,"y2":0.05578},
{"p":2,"u":"s","v":"PR","N":1000,"y":0.01452,"y2":0.01452},{"p":2,"u":"s","v":"PR","N":1069,"y":0.01957,"y2":0.03284},
{"p":2,"u":"s","v":"HEAD=fix_fwrite_length","N":1000,"y":0.01452,"y2":0.01452},{"p":2,"u":"s","v":"HEAD=fix_fwrite_length","N":1069,"y":0.0119,"y2":0.01934},
{"p":2,"u":"s","v":"base=master","N":1000,"y":0.01452,"y2":0.01452},{"p":2,"u":"s","v":"base=master","N":1069,"y":0.006863,"y2":0.01152},
{"p":2,"u":"s","v":"Before","N":1000,"y":0.01452,"y2":0.01452},{"p":2,"u":"s","v":"Before","N":1069,"y":0.00394,"y2":0.006614},
{"p":3,"u":"kb","v":"Fixed","N":9863,"y":359.7,"y2":359.7},{"p":3,"u":"kb","v":"Fixed","N":11170,"y":1188,"y2":2194},
{"p":3,"u":"kb","v":"HEAD=fix_fwrite_length","N":9863,"y":359.7,"y2":359.7},{"p":3,"u":"kb","v":"HEAD=fix_fwrite_length","N":11170,"y":660.7,"y2":1175},
{"p":3,"u":"kb","v":"Before","N":9863,"y":359.7,"y2":359.7},{"p":3,"u":"kb","v":"Before","N":11170,"y":345.8,"y2":638.8},
{"p":3,"u":"kb","v":"CRAN=1.16.2","N":9863,"y":359.7,"y2":359.7},{"p":3,"u":"kb","v":"CRAN=1.16.2","N":11170,"y":180.2,"y2":332.9},
{"p":3,"u":"kb","v":"base=master","N":9863,"y":359.7,"y2":359.7},{"p":3,"u":"kb","v":"base=master","N":11170,"y":93.26,"y2":172.3},
{"p":3,"u":"kb","v":"Regression","N":5623,"y":244.9,"y2":244.9},{"p":3,"u":"kb","v":"Regression","N":11170,"y":49.52,"y2":91.46},
{"p":3,"u":"s","v":"HEAD=fix_fwrite_length","N":9863,"y":0.0123,"y2":0.0123},{"p":3,"u":"s","v":"HEAD=fix_fwrite_length","N":11170,"y":0.03618,"y2":0.05882},
{"p":3,"u":"s","v":"base=master","N":9863,"y":0.0123,"y2":0.0123},{"p":3,"u":"s","v":"base=master","N":11170,"y":0.02101,"y2":0.03527},
{"p":3,"u":"s","v":"Fixed","N":9863,"y":0.0123,"y2":0.0123},{"p":3,"u":"s","v":"Fixed","N":11170,"y":0.01243,"y2":0.02087},
{"p":3,"u":"s","v":"CRAN=1.16.2","N":9863,"y":0.0123,"y2":0.0123},{"p":3,"u":"s","v":"CRAN=1.16.2","N":11170,"y":0.007203,"y2":0.01209},
{"p":3,"u":"s","v":"Regression","N":5623,"y":0.01189,"y2":0.01189},{"p":3,"u":"s","v":"Regression","N":11170,"y":0.004088,"y2":0.006863},
{"p":3,"u":"s","v":"Before","N":9863,"y":0.0123,"y2":0.0123},{"p":3,"u":"s","v":"Before","N":11170,"y":0.002058,"y2":0.003455},
{"p":4,"u":"kb","v":"Regression","N":1e7,"y":82600,"y2":82600},{"p":4,"u":"kb","v":"Regression","N":12250000,"y":52680,"y2":97340},
{"p":4,"u":"kb","v":"Fixed","N":1e7,"y":16.03,"y2":16.03},{"p":4,"u":"kb","v":"Fixed","N":12250000,"y":28.95,"y2":53.49},
{"p":4,"u":"kb","v":"HEAD=fix_fwrite_length","N":1e7,"y":16.03,"y2":16.03},{"p":4,"u":"kb","v":"HEAD=fix_fwrite_length","N":12250000,"y":15.96,"y2":28.38},
{"p":4,"u":"kb","v":"CRAN=1.16.2","N":1e7,"y":16.03,"y2":16.03},{"p":4,"u":"kb","v":"CRAN=1.16.2","N":12250000,"y":8.505,"y2":15.72},
{"p":4,"u":"kb","v":"base=master","N":1e7,"y":16.03,"y2":16.03},{"p":4,"u":"kb","v":"base=master","N":12250000,"y":4.413,"y2":8.151},
{"p":4,"u":"s","v":"Regression","N":1e7,"y":0.01795,"y2":0.01795},{"p":4,"u":"s","v":"Regression","N":12250000,"y":0.01335,"y2":0.02241},
{"p":4,"u":"s","v":"base=master","N":1e7,"y":8.433e-6,"y2":8.433e-6},{"p":4,"u":"s","v":"base=master","N":12250000,"y":1.627e-5,"y2":2.732e-5},
{"p":4,"u":"s","v":"HEAD=fix_fwrite_length","N":1e7,"y":8.913e-6,"y2":8.913e-6},{"p":4,"u":"s","v":"HEAD=fix_fwrite_length","N":12250000,"y":9.806e-6,"y2":1.594e-5},
{"p":4,"u":"s","v":"CRAN=1.16.2","N":1e7,"y":7.161e-6,"y2":7.161e-6},{"p":4,"u":"s","v":"CRAN=1.16.2","N":12250000,"y":5.748e-6,"y2":9.649e-6},
{"p":4,"u":"s","v":"Fixed","N":1e7,"y":5.768e-6,"y2":5.768e-6},{"p":4,"u":"s","v":"Fixed","N":12250000,"y":3.345e-6,"y2":5.617e-6}
]
},
"concat": [
 {"width": 368.4, "height": 331.3,
  "resolve": {"axis": {"x": "independent", "y": "independent"}},
  "encoding": {
    "x": {"field": "N", "type": "quantitative", "scale": {"type": "log", "domain": [5.728, 1264700], "nice": false}, "axis": null},
    "y": {"field": "y", "type": "quantitative", "scale": {"type": "log", "domain": [0.4188, 137404], "nice": false}, "axis": null}
  },
  "layer": [
    {"data": {"name": "bands"}, "transform": [{"filter": "datum.p==1&&datum.u=='kb'"}], "mark": {"type": "area", "orient": "vertical", "opacity": 0.5, "clip": true},
     "encoding": {
       "x": {"field": "N", "type": "quantitative", "scale": {"type": "log", "domain": [5.728, 1264700], "nice": false},
         "axis": {"orient": "top", "offset": 24.5, "domain": true, "domainColor": "#333333", "domainWidth": 49, "ticks": false, "labels": false, "grid": false, "title": null}},
       "y2": {"field": "y2"}, "color": {"field": "v", "type": "nominal", "legend": null, "scale": {"domain": ["HEAD=fix_fwrite_length","base=master","CRAN=1.16.2","Before","Regression","Fixed","PR"], "range": ["#1B9E77","#D95F02","#E7298A","#66A61E","#E6AB02","#A6761D","#666666"]}}, "detail": {"field": "v"}}},
    {"data": {"name": "lines"}, "transform": [{"filter": "datum.p==1&&datum.u=='kb'"}], "mark": {"type": "line", "clip": true, "strokeWidth": 1.2},
     "encoding": {
       "x": {"field": "N", "type": "quantitative", "scale": {"type": "log", "domain": [5.728, 1264700], "nice": false},
         "axis": {"title": null, "grid": true, "values": [10, 100, 1000, 10000, 100000, 1000000], "labels": false, "ticks": false,
           "gridWidth": {"condition": {"test": "round(log(datum.value)/LN10)%2==0", "value": 1.07}, "value": 0.53}}},
       "y": {"field": "y", "type": "quantitative", "scale": {"type": "log", "domain": [0.4188, 137404], "nice": false},
         "axis": {"title": "median line, quartiles band", "grid": true, "titleX": -49.1, "titleY": 335.8, "titleBaseline": "alphabetic", "titleAlign": "center", "titleAngle": -90,
           "values": [1, 10, 100, 1000, 10000, 100000],
           "gridWidth": {"condition": {"test": "abs(round(log(datum.value)/LN10))%2==1", "value": 1.07}, "value": 0.53},
           "tickOpacity": {"condition": {"test": "abs(round(log(datum.value)/LN10))%2==1", "value": 1}, "value": 0},
           "labelExpr": "abs(round(log(datum.value)/LN10))%2==1 ? '1e+0'+round(log(datum.value)/LN10) : ''"}},
       "color": {"field": "v", "type": "nominal", "legend": null}}},
    {"data": {"name": "lines"}, "transform": [{"filter": "datum.p==1&&datum.u=='kb'&&datum.v=='Regression'"}], "mark": {"type": "line", "clip": true, "strokeWidth": 1.2}, "encoding": {"color": {"field": "v", "type": "nominal", "legend": null}}},
    {"data": {"name": "arrows"}, "transform": [{"filter": "datum.p==1&&datum.u=='kb'"}], "mark": {"type": "area", "orient": "vertical", "opacity": 1, "stroke": "black", "strokeWidth": 0.5, "clip": true},
     "encoding": {
       "x": {"field": "N", "type": "quantitative", "scale": {"type": "log", "domain": [5.728, 1264700], "nice": false},
         "axis": {"orient": "top", "offset": 36.7, "domain": true, "domainColor": "#D9D9D9", "domainWidth": 22.4, "ticks": false, "labels": false, "grid": false,
           "title": "P.value: 9.73e-03", "titleX": 184.2, "titleY": 0, "titleBaseline": "middle", "titleAlign": "center", "titleFontSize": 11.7, "titleColor": "#1A1A1A"}},
       "y2": {"field": "y2"}, "color": {"field": "v", "type": "nominal", "legend": null}, "detail": {"field": "v"}}},
    {"data": {"name": "labels"}, "transform": [{"filter": "datum.p==1&&datum.u=='kb'"}], "mark": {"type": "point", "filled": true, "size": 4, "opacity": 1, "stroke": "black", "strokeWidth": 0.6, "clip": true},
     "encoding": {
       "x": {"field": "N", "type": "quantitative", "scale": {"type": "log", "domain": [5.728, 1264700], "nice": false},
         "axis": {"orient": "top", "offset": 12.35, "domain": true, "domainColor": "#D9D9D9", "domainWidth": 22.5, "ticks": false, "labels": false, "grid": false,
           "title": "Test: memrecycle regression fixed in #5463", "titleX": 184.2, "titleY": 0, "titleBaseline": "middle", "titleAlign": "center", "titleFontSize": 11.7, "titleColor": "#1A1A1A"}},
       "color": {"field": "v", "type": "nominal", "legend": null},
       "shape": {"field": "v", "type": "nominal", "legend": null, "scale": {"domain": ["HEAD=fix_fwrite_length","base=master","CRAN=1.16.2","Before","Regression","Fixed","PR"], "range": ["M0,-7.5H140V7.5H0Z","M0,-8H97V8H0Z","M0,-8H104V8H0Z","M0,-8H50V8H0Z","M0,-8H84V8H0Z","M0,-8H42.5V8H0Z","M0,-8H26V8H0Z"]}}}},
    {"data": {"name": "labels"}, "transform": [{"filter": "datum.p==1&&datum.u=='kb'"}], "mark": {"type": "text", "align": "left", "baseline": "middle", "dx": 2, "font": "Liberation Sans", "clip": true},
     "encoding": {"text": {"field": "v"}, "color": {"condition": {"test": "datum.v=='Before'||datum.v=='Regression'", "value": "black"}, "value": "white"}, "size": {"condition": {"test": "datum.v=='HEAD=fix_fwrite_length'", "value": 12.2}, "value": 16}}}
  ]},
 {"width": 368.4, "height": 331.3,
  "resolve": {"axis": {"x": "independent", "y": "independent"}},
  "encoding": {
    "x": {"field": "N", "type": "quantitative", "scale": {"type": "log", "domain": [7.096, 13772], "nice": false}, "axis": null},
    "y": {"field": "y", "type": "quantitative", "scale": {"type": "log", "domain": [0.4188, 137404], "nice": false}, "axis": null}
  },
  "layer": [
    {"data": {"name": "bands"}, "transform": [{"filter": "datum.p==2&&datum.u=='kb'"}], "mark": {"type": "area", "orient": "vertical", "opacity": 0.5, "clip": true},
     "encoding": {
       "x": {"field": "N", "type": "quantitative", "scale": {"type": "log", "domain": [7.096, 13772], "nice": false},
         "axis": {"orient": "top", "offset": 24.5, "domain": true, "domainColor": "#333333", "domainWidth": 49, "ticks": false, "labels": false, "grid": false, "title": null}},
       "y2": {"field": "y2"}, "color": {"field": "v", "type": "nominal", "legend": null}, "detail": {"field": "v"}}},
    {"data": {"name": "lines"}, "transform": [{"filter": "datum.p==2&&datum.u=='kb'"}], "mark": {"type": "line", "clip": true, "strokeWidth": 1.2},
     "encoding": {
       "x": {"field": "N", "type": "quantitative", "scale": {"type": "log", "domain": [7.096, 13772], "nice": false},
         "axis": {"title": null, "grid": true, "values": [10, 31.6227766, 100, 316.227766, 1000, 3162.27766, 10000], "labels": false, "ticks": false,
           "gridWidth": {"condition": {"test": "abs(log(datum.value)/LN10-round(log(datum.value)/LN10))<0.01", "value": 1.07}, "value": 0.53}}},
       "y": {"field": "y", "type": "quantitative", "scale": {"type": "log", "domain": [0.4188, 137404], "nice": false},
         "axis": {"title": null, "grid": true, "values": [1, 10, 100, 1000, 10000, 100000], "labels": false, "ticks": false,
           "gridWidth": {"condition": {"test": "abs(round(log(datum.value)/LN10))%2==1", "value": 1.07}, "value": 0.53}}},
       "color": {"field": "v", "type": "nominal", "legend": null}}},
    {"data": {"name": "arrows"}, "transform": [{"filter": "datum.p==2&&datum.u=='kb'"}], "mark": {"type": "area", "orient": "vertical", "opacity": 1, "stroke": "black", "strokeWidth": 0.5, "clip": true},
     "encoding": {
       "x": {"field": "N", "type": "quantitative", "scale": {"type": "log", "domain": [7.096, 13772], "nice": false},
         "axis": {"orient": "top", "offset": 36.7, "domain": true, "domainColor": "#D9D9D9", "domainWidth": 22.4, "ticks": false, "labels": false, "grid": false,
           "title": "P.value: 1.91e-02", "titleX": 184.2, "titleY": 0, "titleBaseline": "middle", "titleAlign": "center", "titleFontSize": 11.7, "titleColor": "#1A1A1A"}},
       "y2": {"field": "y2"}, "color": {"field": "v", "type": "nominal", "legend": null}, "detail": {"field": "v"}}},
    {"data": {"name": "labels"}, "transform": [{"filter": "datum.p==2&&datum.u=='kb'"}], "mark": {"type": "point", "filled": true, "size": 4, "opacity": 1, "stroke": "black", "strokeWidth": 0.6, "clip": true},
     "encoding": {
       "x": {"field": "N", "type": "quantitative", "scale": {"type": "log", "domain": [7.096, 13772], "nice": false},
         "axis": {"orient": "top", "offset": 12.35, "domain": true, "domainColor": "#D9D9D9", "domainWidth": 22.5, "ticks": false, "labels": false, "grid": false,
           "title": "Test: fwrite refactored in #6393", "titleX": 184.2, "titleY": 0, "titleBaseline": "middle", "titleAlign": "center", "titleFontSize": 11.7, "titleColor": "#1A1A1A"}},
       "color": {"field": "v", "type": "nominal", "legend": null}, "shape": {"field": "v", "type": "nominal", "legend": null}}},
    {"data": {"name": "labels"}, "transform": [{"filter": "datum.p==2&&datum.u=='kb'"}], "mark": {"type": "text", "align": "left", "baseline": "middle", "dx": 2, "font": "Liberation Sans", "clip": true},
     "encoding": {"text": {"field": "v"}, "color": {"condition": {"test": "datum.v=='Before'||datum.v=='Regression'", "value": "black"}, "value": "white"}, "size": {"condition": {"test": "datum.v=='HEAD=fix_fwrite_length'", "value": 12.2}, "value": 16}}}
  ]},
 {"width": 368.4, "height": 331.3,
  "resolve": {"axis": {"x": "independent", "y": "independent"}},
  "encoding": {
    "x": {"field": "N", "type": "quantitative", "scale": {"type": "log", "domain": [5.916, 529663], "nice": false}, "axis": null},
    "y": {"field": "y", "type": "quantitative", "scale": {"type": "log", "domain": [0.4188, 137404], "nice": false}, "axis": null}
  },
  "layer": [
    {"data": {"name": "bands"}, "transform": [{"filter": "datum.p==3&&datum.u=='kb'"}], "mark": {"type": "area", "orient": "vertical", "opacity": 0.5, "clip": true},
     "encoding": {
       "x": {"field": "N", "type": "quantitative", "scale": {"type": "log", "domain": [5.916, 529663], "nice": false},
         "axis": {"orient": "top", "offset": 24.5, "domain": true, "domainColor": "#333333", "domainWidth": 49, "ticks": false, "labels": false, "grid": false, "title": null}},
       "y2": {"field": "y2"}, "color": {"field": "v", "type": "nominal", "legend": null}, "detail": {"field": "v"}}},
    {"data": {"name": "lines"}, "transform": [{"filter": "datum.p==3&&datum.u=='kb'"}], "mark": {"type": "line", "clip": true, "strokeWidth": 1.2},
     "encoding": {
       "x": {"field": "N", "type": "quantitative", "scale": {"type": "log", "domain": [5.916, 529663], "nice": false},
         "axis": {"title": null, "grid": true, "values": [10, 31.6227766, 100, 316.227766, 1000, 3162.27766, 10000, 31622.7766, 100000, 316227.766], "labels": false, "ticks": false,
           "gridWidth": {"condition": {"test": "abs(log(datum.value)/LN10-round(log(datum.value)/LN10))<0.01", "value": 1.07}, "value": 0.53}}},
       "y": {"field": "y", "type": "quantitative", "scale": {"type": "log", "domain": [0.4188, 137404], "nice": false},
         "axis": {"title": null, "grid": true, "values": [1, 10, 100, 1000, 10000, 100000], "labels": false, "ticks": false,
           "gridWidth": {"condition": {"test": "abs(round(log(datum.value)/LN10))%2==1", "value": 1.07}, "value": 0.53}}},
       "color": {"field": "v", "type": "nominal", "legend": null}}},
    {"data": {"name": "lines"}, "transform": [{"filter": "datum.p==3&&datum.u=='kb'&&datum.v=='Regression'"}], "mark": {"type": "line", "clip": true, "strokeWidth": 1.2}, "encoding": {"color": {"field": "v", "type": "nominal", "legend": null}}},
    {"data": {"name": "arrows"}, "transform": [{"filter": "datum.p==3&&datum.u=='kb'"}], "mark": {"type": "area", "orient": "vertical", "opacity": 1, "stroke": "black", "strokeWidth": 0.5, "clip": true},
     "encoding": {
       "x": {"field": "N", "type": "quantitative", "scale": {"type": "log", "domain": [5.916, 529663], "nice": false},
         "axis": {"orient": "top", "offset": 36.7, "domain": true, "domainColor": "#D9D9D9", "domainWidth": 22.4, "ticks": false, "labels": false, "grid": false,
           "title": "P.value: 2.87e-02", "titleX": 184.2, "titleY": 0, "titleBaseline": "middle", "titleAlign": "center", "titleFontSize": 11.7, "titleColor": "#1A1A1A"}},
       "y2": {"field": "y2"}, "color": {"field": "v", "type": "nominal", "legend": null}, "detail": {"field": "v"}}},
    {"data": {"name": "labels"}, "transform": [{"filter": "datum.p==3&&datum.u=='kb'"}], "mark": {"type": "point", "filled": true, "size": 4, "opacity": 1, "stroke": "black", "strokeWidth": 0.6, "clip": true},
     "encoding": {
       "x": {"field": "N", "type": "quantitative", "scale": {"type": "log", "domain": [5.916, 529663], "nice": false},
         "axis": {"orient": "top", "offset": 12.35, "domain": true, "domainColor": "#D9D9D9", "domainWidth": 22.5, "ticks": false, "labels": false, "grid": false,
           "title": "Test: DT[by] fixed in #4558", "titleX": 184.2, "titleY": 0, "titleBaseline": "middle", "titleAlign": "center", "titleFontSize": 11.7, "titleColor": "#1A1A1A"}},
       "color": {"field": "v", "type": "nominal", "legend": null}, "shape": {"field": "v", "type": "nominal", "legend": null}}},
    {"data": {"name": "labels"}, "transform": [{"filter": "datum.p==3&&datum.u=='kb'"}], "mark": {"type": "text", "align": "left", "baseline": "middle", "dx": 2, "font": "Liberation Sans", "clip": true},
     "encoding": {"text": {"field": "v"}, "color": {"condition": {"test": "datum.v=='Before'||datum.v=='Regression'", "value": "black"}, "value": "white"}, "size": {"condition": {"test": "datum.v=='HEAD=fix_fwrite_length'", "value": 12.2}, "value": 16}}}
  ]},
 {"width": 368.4, "height": 331.3,
  "resolve": {"axis": {"x": "independent", "y": "independent"}},
  "encoding": {
    "x": {"field": "N", "type": "quantitative", "scale": {"type": "log", "domain": [3.565, 2.63e10], "nice": false}, "axis": null},
    "y": {"field": "y", "type": "quantitative", "scale": {"type": "log", "domain": [0.4188, 137404], "nice": false}, "axis": null}
  },
  "layer": [
    {"data": {"name": "bands"}, "transform": [{"filter": "datum.p==4&&datum.u=='kb'"}], "mark": {"type": "area", "orient": "vertical", "opacity": 0.5, "clip": true},
     "encoding": {
       "x": {"field": "N", "type": "quantitative", "scale": {"type": "log", "domain": [3.565, 2.63e10], "nice": false},
         "axis": {"orient": "top", "offset": 24.5, "domain": true, "domainColor": "#333333", "domainWidth": 49, "ticks": false, "labels": false, "grid": false, "title": null}},
       "y2": {"field": "y2"}, "color": {"field": "v", "type": "nominal", "legend": null}, "detail": {"field": "v"}}},
    {"data": {"name": "lines"}, "transform": [{"filter": "datum.p==4&&datum.u=='kb'"}], "mark": {"type": "line", "clip": true, "strokeWidth": 1.2},
     "encoding": {
       "x": {"field": "N", "type": "quantitative", "scale": {"type": "log", "domain": [3.565, 2.63e10], "nice": false},
         "axis": {"title": null, "grid": true, "values": [31.6227766, 1000, 31622.7766, 1000000, 31622776.6, 1000000000], "labels": false, "ticks": false,
           "gridWidth": {"condition": {"test": "abs(log(datum.value)/LN10-round(log(datum.value)/LN10))<0.01", "value": 1.07}, "value": 0.53}}},
       "y": {"field": "y", "type": "quantitative", "scale": {"type": "log", "domain": [0.4188, 137404], "nice": false},
         "axis": {"title": null, "grid": true, "values": [1, 10, 100, 1000, 10000, 100000], "labels": false, "ticks": false,
           "gridWidth": {"condition": {"test": "abs(round(log(datum.value)/LN10))%2==1", "value": 1.07}, "value": 0.53}}},
       "color": {"field": "v", "type": "nominal", "legend": null}}},
    {"data": {"name": "lines"}, "transform": [{"filter": "datum.p==4&&datum.u=='kb'&&datum.v=='Regression'"}], "mark": {"type": "line", "clip": true, "strokeWidth": 1.2}, "encoding": {"color": {"field": "v", "type": "nominal", "legend": null}}},
    {"data": {"name": "arrows"}, "transform": [{"filter": "datum.p==4&&datum.u=='kb'"}], "mark": {"type": "area", "orient": "vertical", "opacity": 1, "stroke": "black", "strokeWidth": 0.5, "clip": true},
     "encoding": {
       "x": {"field": "N", "type": "quantitative", "scale": {"type": "log", "domain": [3.565, 2.63e10], "nice": false},
         "axis": {"orient": "top", "offset": 36.7, "domain": true, "domainColor": "#D9D9D9", "domainWidth": 22.4, "ticks": false, "labels": false, "grid": false,
           "title": "P.value: 1.33e-01", "titleX": 184.2, "titleY": 0, "titleBaseline": "middle", "titleAlign": "center", "titleFontSize": 11.7, "titleColor": "#1A1A1A"}},
       "y": {"field": "y", "type": "quantitative", "scale": {"type": "log", "domain": [0.4188, 137404], "nice": false},
         "axis": {"orient": "right", "offset": 12.3, "domain": true, "domainColor": "#333333", "domainWidth": 23.4, "ticks": false, "labels": false, "grid": false, "title": null}},
       "y2": {"field": "y2"}, "color": {"field": "v", "type": "nominal", "legend": null}, "detail": {"field": "v"}}},
    {"data": {"name": "labels"}, "transform": [{"filter": "datum.p==4&&datum.u=='kb'"}], "mark": {"type": "point", "filled": true, "size": 4, "opacity": 1, "stroke": "black", "strokeWidth": 0.6, "clip": true},
     "encoding": {
       "x": {"field": "N", "type": "quantitative", "scale": {"type": "log", "domain": [3.565, 2.63e10], "nice": false},
         "axis": {"orient": "top", "offset": 12.35, "domain": true, "domainColor": "#D9D9D9", "domainWidth": 22.5, "ticks": false, "labels": false, "grid": false,
           "title": "Test: shallow regression fixed in #4440", "titleX": 184.2, "titleY": 0, "titleBaseline": "middle", "titleAlign": "center", "titleFontSize": 11.7, "titleColor": "#1A1A1A"}},
       "y": {"field": "y", "type": "quantitative", "scale": {"type": "log", "domain": [0.4188, 137404], "nice": false},
         "axis": {"orient": "right", "offset": 12.3, "domain": true, "domainColor": "#D9D9D9", "domainWidth": 21.4, "ticks": false, "labels": false, "grid": false,
           "title": "unit: kilobytes", "titleAngle": 90, "titleX": 0, "titleY": 165.65, "titleAlign": "center", "titleBaseline": "middle", "titleFontSize": 11.7, "titleColor": "#1A1A1A"}},
       "color": {"field": "v", "type": "nominal", "legend": null}, "shape": {"field": "v", "type": "nominal", "legend": null}}},
    {"data": {"name": "labels"}, "transform": [{"filter": "datum.p==4&&datum.u=='kb'"}], "mark": {"type": "text", "align": "left", "baseline": "middle", "dx": 2, "font": "Liberation Sans", "clip": true},
     "encoding": {"text": {"field": "v"}, "color": {"condition": {"test": "datum.v=='Before'||datum.v=='Regression'", "value": "black"}, "value": "white"}, "size": {"condition": {"test": "datum.v=='HEAD=fix_fwrite_length'", "value": 12.2}, "value": 16}}}
  ]},

 {"width": 368.4, "height": 331.3,
  "resolve": {"axis": {"x": "independent", "y": "independent"}},
  "encoding": {
    "x": {"field": "N", "type": "quantitative", "scale": {"type": "log", "domain": [5.728, 1264700], "nice": false}, "axis": null},
    "y": {"field": "y", "type": "quantitative", "scale": {"type": "log", "domain": [3.365e-6, 0.1552], "nice": false}, "axis": null}
  },
  "layer": [
    {"data": {"name": "bands"}, "transform": [{"filter": "datum.p==1&&datum.u=='s'"}], "mark": {"type": "area", "orient": "vertical", "opacity": 0.5, "clip": true}, "encoding": {"y2": {"field": "y2"}, "color": {"field": "v", "type": "nominal", "legend": null}, "detail": {"field": "v"}}},
    {"data": {"name": "lines"}, "transform": [{"filter": "datum.p==1&&datum.u=='s'"}], "mark": {"type": "line", "clip": true, "strokeWidth": 1.2},
     "encoding": {
       "x": {"field": "N", "type": "quantitative", "scale": {"type": "log", "domain": [5.728, 1264700], "nice": false},
         "axis": {"title": null, "grid": true, "values": [10, 100, 1000, 10000, 100000, 1000000],
           "gridWidth": {"condition": {"test": "round(log(datum.value)/LN10)%2==0", "value": 1.07}, "value": 0.53},
           "tickOpacity": {"condition": {"test": "round(log(datum.value)/LN10)%2==0", "value": 1}, "value": 0},
           "labelExpr": "round(log(datum.value)/LN10)%2==0 ? '1e+0'+round(log(datum.value)/LN10) : ''"}},
       "y": {"field": "y", "type": "quantitative", "scale": {"type": "log", "domain": [3.365e-6, 0.1552], "nice": false},
         "axis": {"title": null, "grid": true, "values": [1e-5, 3.16227766e-5, 1e-4, 3.16227766e-4, 0.001, 0.00316227766, 0.01, 0.0316227766, 0.1],
           "gridWidth": {"condition": {"test": "abs(log(datum.value)/LN10-round(log(datum.value)/LN10))<0.01", "value": 1.07}, "value": 0.53},
           "gridColor": {"condition": {"test": "abs(datum.value-0.01)<1e-9", "value": "#AFAFAF"}, "value": "#EBEBEB"},
           "tickOpacity": {"condition": {"test": "abs(log(datum.value)/LN10-round(log(datum.value)/LN10))<0.01", "value": 1}, "value": 0},
           "labelExpr": "abs(log(datum.value)/LN10-round(log(datum.value)/LN10))<0.01 ? '1e-0'+abs(round(log(datum.value)/LN10)) : ''"}},
       "color": {"field": "v", "type": "nominal", "legend": null}}},
    {"data": {"name": "lines"}, "transform": [{"filter": "datum.p==1&&datum.u=='s'&&datum.v=='Regression'"}], "mark": {"type": "line", "clip": true, "strokeWidth": 1.2}, "encoding": {"color": {"field": "v", "type": "nominal", "legend": null}}},
    {"data": {"name": "dots"}, "transform": [{"filter": "datum.p==1&&datum.u=='s'"}], "mark": {"type": "point", "filled": false, "size": 30, "strokeWidth": 1.1, "clip": true}, "encoding": {"color": {"field": "v", "type": "nominal", "legend": null}}},
    {"data": {"name": "arrows"}, "transform": [{"filter": "datum.p==1&&datum.u=='s'"}], "mark": {"type": "area", "orient": "vertical", "opacity": 1, "stroke": "black", "strokeWidth": 0.5, "clip": true}, "encoding": {"y2": {"field": "y2"}, "color": {"field": "v", "type": "nominal", "legend": null}, "detail": {"field": "v"}}},
    {"data": {"name": "labels"}, "transform": [{"filter": "datum.p==1&&datum.u=='s'"}], "mark": {"type": "point", "filled": true, "size": 4, "opacity": 1, "stroke": "black", "strokeWidth": 0.6, "clip": true}, "encoding": {"color": {"field": "v", "type": "nominal", "legend": null}, "shape": {"field": "v", "type": "nominal", "legend": null}}},
    {"data": {"name": "labels"}, "transform": [{"filter": "datum.p==1&&datum.u=='s'"}], "mark": {"type": "text", "align": "left", "baseline": "middle", "dx": 2, "font": "Liberation Sans", "clip": true}, "encoding": {"text": {"field": "v"}, "color": {"condition": {"test": "datum.v=='Before'||datum.v=='Regression'", "value": "black"}, "value": "white"}, "size": {"condition": {"test": "datum.v=='HEAD=fix_fwrite_length'", "value": 12.2}, "value": 16}}}
  ]},
 {"width": 368.4, "height": 331.3,
  "resolve": {"axis": {"x": "independent", "y": "independent"}},
  "encoding": {
    "x": {"field": "N", "type": "quantitative", "scale": {"type": "log", "domain": [7.096, 13772], "nice": false}, "axis": null},
    "y": {"field": "y", "type": "quantitative", "scale": {"type": "log", "domain": [3.365e-6, 0.1552], "nice": false}, "axis": null}
  },
  "layer": [
    {"data": {"name": "bands"}, "transform": [{"filter": "datum.p==2&&datum.u=='s'"}], "mark": {"type": "area", "orient": "vertical", "opacity": 0.5, "clip": true}, "encoding": {"y2": {"field": "y2"}, "color": {"field": "v", "type": "nominal", "legend": null}, "detail": {"field": "v"}}},
    {"data": {"name": "lines"}, "transform": [{"filter": "datum.p==2&&datum.u=='s'"}], "mark": {"type": "line", "clip": true, "strokeWidth": 1.2},
     "encoding": {
       "x": {"field": "N", "type": "quantitative", "scale": {"type": "log", "domain": [7.096, 13772], "nice": false},
         "axis": {"title": "N", "grid": true, "titleX": 372.5, "titleY": 34.5, "titleBaseline": "alphabetic", "titleAlign": "center",
           "values": [10, 31.6227766, 100, 316.227766, 1000, 3162.27766, 10000],
           "gridWidth": {"condition": {"test": "abs(log(datum.value)/LN10-round(log(datum.value)/LN10))<0.01", "value": 1.07}, "value": 0.53},
           "tickOpacity": {"condition": {"test": "abs(log(datum.value)/LN10-round(log(datum.value)/LN10))<0.01", "value": 1}, "value": 0},
           "labelExpr": "abs(log(datum.value)/LN10-round(log(datum.value)/LN10))<0.01 ? format(datum.value,'d') : ''"}},
       "y": {"field": "y", "type": "quantitative", "scale": {"type": "log", "domain": [3.365e-6, 0.1552], "nice": false},
         "axis": {"title": null, "grid": true, "values": [1e-5, 3.16227766e-5, 1e-4, 3.16227766e-4, 0.001, 0.00316227766, 0.01, 0.0316227766, 0.1], "labels": false, "ticks": false,
           "gridWidth": {"condition": {"test": "abs(log(datum.value)/LN10-round(log(datum.value)/LN10))<0.01", "value": 1.07}, "value": 0.53},
           "gridColor": {"condition": {"test": "abs(datum.value-0.01)<1e-9", "value": "#AFAFAF"}, "value": "#EBEBEB"}}},
       "color": {"field": "v", "type": "nominal", "legend": null}}},
    {"data": {"name": "arrows"}, "transform": [{"filter": "datum.p==2&&datum.u=='s'"}], "mark": {"type": "area", "orient": "vertical", "opacity": 1, "stroke": "black", "strokeWidth": 0.5, "clip": true}, "encoding": {"y2": {"field": "y2"}, "color": {"field": "v", "type": "nominal", "legend": null}, "detail": {"field": "v"}}},
    {"data": {"name": "labels"}, "transform": [{"filter": "datum.p==2&&datum.u=='s'"}], "mark": {"type": "point", "filled": true, "size": 4, "opacity": 1, "stroke": "black", "strokeWidth": 0.6, "clip": true}, "encoding": {"color": {"field": "v", "type": "nominal", "legend": null}, "shape": {"field": "v", "type": "nominal", "legend": null}}},
    {"data": {"name": "labels"}, "transform": [{"filter": "datum.p==2&&datum.u=='s'"}], "mark": {"type": "text", "align": "left", "baseline": "middle", "dx": 2, "font": "Liberation Sans", "clip": true}, "encoding": {"text": {"field": "v"}, "color": {"condition": {"test": "datum.v=='Before'||datum.v=='Regression'", "value": "black"}, "value": "white"}, "size": {"condition": {"test": "datum.v=='HEAD=fix_fwrite_length'", "value": 12.2}, "value": 16}}}
  ]},
 {"width": 368.4, "height": 331.3,
  "resolve": {"axis": {"x": "independent", "y": "independent"}},
  "encoding": {
    "x": {"field": "N", "type": "quantitative", "scale": {"type": "log", "domain": [5.916, 529663], "nice": false}, "axis": null},
    "y": {"field": "y", "type": "quantitative", "scale": {"type": "log", "domain": [3.365e-6, 0.1552], "nice": false}, "axis": null}
  },
  "layer": [
    {"data": {"name": "bands"}, "transform": [{"filter": "datum.p==3&&datum.u=='s'"}], "mark": {"type": "area", "orient": "vertical", "opacity": 0.5, "clip": true}, "encoding": {"y2": {"field": "y2"}, "color": {"field": "v", "type": "nominal", "legend": null}, "detail": {"field": "v"}}},
    {"data": {"name": "lines"}, "transform": [{"filter": "datum.p==3&&datum.u=='s'"}], "mark": {"type": "line", "clip": true, "strokeWidth": 1.2},
     "encoding": {
       "x": {"field": "N", "type": "quantitative", "scale": {"type": "log", "domain": [5.916, 529663], "nice": false},
         "axis": {"title": null, "grid": true, "values": [10, 31.6227766, 100, 316.227766, 1000, 3162.27766, 10000, 31622.7766, 100000, 316227.766],
           "gridWidth": {"condition": {"test": "abs(log(datum.value)/LN10-round(log(datum.value)/LN10))<0.01", "value": 1.07}, "value": 0.53},
           "tickOpacity": {"condition": {"test": "abs(log(datum.value)/LN10-round(log(datum.value)/LN10))<0.01", "value": 1}, "value": 0},
           "labelExpr": "abs(log(datum.value)/LN10-round(log(datum.value)/LN10))<0.01 ? '1e+0'+round(log(datum.value)/LN10) : ''"}},
       "y": {"field": "y", "type": "quantitative", "scale": {"type": "log", "domain": [3.365e-6, 0.1552], "nice": false},
         "axis": {"title": null, "grid": true, "values": [1e-5, 3.16227766e-5, 1e-4, 3.16227766e-4, 0.001, 0.00316227766, 0.01, 0.0316227766, 0.1], "labels": false, "ticks": false,
           "gridWidth": {"condition": {"test": "abs(log(datum.value)/LN10-round(log(datum.value)/LN10))<0.01", "value": 1.07}, "value": 0.53},
           "gridColor": {"condition": {"test": "abs(datum.value-0.01)<1e-9", "value": "#AFAFAF"}, "value": "#EBEBEB"}}},
       "color": {"field": "v", "type": "nominal", "legend": null}}},
    {"data": {"name": "lines"}, "transform": [{"filter": "datum.p==3&&datum.u=='s'&&datum.v=='Regression'"}], "mark": {"type": "line", "clip": true, "strokeWidth": 1.2}, "encoding": {"color": {"field": "v", "type": "nominal", "legend": null}}},
    {"data": {"name": "dots"}, "transform": [{"filter": "datum.p==3&&datum.u=='s'"}], "mark": {"type": "point", "filled": false, "size": 30, "strokeWidth": 1.1, "clip": true}, "encoding": {"color": {"field": "v", "type": "nominal", "legend": null}}},
    {"data": {"name": "arrows"}, "transform": [{"filter": "datum.p==3&&datum.u=='s'"}], "mark": {"type": "area", "orient": "vertical", "opacity": 1, "stroke": "black", "strokeWidth": 0.5, "clip": true}, "encoding": {"y2": {"field": "y2"}, "color": {"field": "v", "type": "nominal", "legend": null}, "detail": {"field": "v"}}},
    {"data": {"name": "labels"}, "transform": [{"filter": "datum.p==3&&datum.u=='s'"}], "mark": {"type": "point", "filled": true, "size": 4, "opacity": 1, "stroke": "black", "strokeWidth": 0.6, "clip": true}, "encoding": {"color": {"field": "v", "type": "nominal", "legend": null}, "shape": {"field": "v", "type": "nominal", "legend": null}}},
    {"data": {"name": "labels"}, "transform": [{"filter": "datum.p==3&&datum.u=='s'"}], "mark": {"type": "text", "align": "left", "baseline": "middle", "dx": 2, "font": "Liberation Sans", "clip": true}, "encoding": {"text": {"field": "v"}, "color": {"condition": {"test": "datum.v=='Before'||datum.v=='Regression'", "value": "black"}, "value": "white"}, "size": {"condition": {"test": "datum.v=='HEAD=fix_fwrite_length'", "value": 12.2}, "value": 16}}}
  ]},
 {"width": 368.4, "height": 331.3,
  "resolve": {"axis": {"x": "independent", "y": "independent"}},
  "encoding": {
    "x": {"field": "N", "type": "quantitative", "scale": {"type": "log", "domain": [3.565, 2.63e10], "nice": false}, "axis": null},
    "y": {"field": "y", "type": "quantitative", "scale": {"type": "log", "domain": [3.365e-6, 0.1552], "nice": false}, "axis": null}
  },
  "layer": [
    {"data": {"name": "bands"}, "transform": [{"filter": "datum.p==4&&datum.u=='s'"}], "mark": {"type": "area", "orient": "vertical", "opacity": 0.5, "clip": true}, "encoding": {"y2": {"field": "y2"}, "color": {"field": "v", "type": "nominal", "legend": null}, "detail": {"field": "v"}}},
    {"data": {"name": "lines"}, "transform": [{"filter": "datum.p==4&&datum.u=='s'"}], "mark": {"type": "line", "clip": true, "strokeWidth": 1.2},
     "encoding": {
       "x": {"field": "N", "type": "quantitative", "scale": {"type": "log", "domain": [3.565, 2.63e10], "nice": false},
         "axis": {"title": null, "grid": true, "values": [31.6227766, 1000, 31622.7766, 1000000, 31622776.6, 1000000000],
           "gridWidth": {"condition": {"test": "abs(log(datum.value)/LN10-round(log(datum.value)/LN10))<0.01", "value": 1.07}, "value": 0.53},
           "tickOpacity": {"condition": {"test": "abs(log(datum.value)/LN10-round(log(datum.value)/LN10))<0.01", "value": 1}, "value": 0},
           "labelExpr": "abs(log(datum.value)/LN10-round(log(datum.value)/LN10))<0.01 ? '1e+0'+round(log(datum.value)/LN10) : ''"}},
       "y": {"field": "y", "type": "quantitative", "scale": {"type": "log", "domain": [3.365e-6, 0.1552], "nice": false},
         "axis": {"title": null, "grid": true, "values": [1e-5, 3.16227766e-5, 1e-4, 3.16227766e-4, 0.001, 0.00316227766, 0.01, 0.0316227766, 0.1], "labels": false, "ticks": false,
           "gridWidth": {"condition": {"test": "abs(log(datum.value)/LN10-round(log(datum.value)/LN10))<0.01", "value": 1.07}, "value": 0.53},
           "gridColor": {"condition": {"test": "abs(datum.value-0.01)<1e-9", "value": "#AFAFAF"}, "value": "#EBEBEB"}}},
       "color": {"field": "v", "type": "nominal", "legend": null}}},
    {"data": {"name": "lines"}, "transform": [{"filter": "datum.p==4&&datum.u=='s'&&datum.v=='Regression'"}], "mark": {"type": "line", "clip": true, "strokeWidth": 1.2}, "encoding": {"color": {"field": "v", "type": "nominal", "legend": null}}},
    {"data": {"name": "dots"}, "transform": [{"filter": "datum.p==4&&datum.u=='s'"}], "mark": {"type": "point", "filled": false, "size": 30, "strokeWidth": 1.1, "clip": true}, "encoding": {"color": {"field": "v", "type": "nominal", "legend": null}}},
    {"data": {"name": "arrows"}, "transform": [{"filter": "datum.p==4&&datum.u=='s'"}], "mark": {"type": "area", "orient": "vertical", "opacity": 1, "stroke": "black", "strokeWidth": 0.5, "clip": true},
     "encoding": {
       "y": {"field": "y", "type": "quantitative", "scale": {"type": "log", "domain": [3.365e-6, 0.1552], "nice": false},
         "axis": {"orient": "right", "offset": 12.3, "domain": true, "domainColor": "#333333", "domainWidth": 23.4, "ticks": false, "labels": false, "grid": false, "title": null}},
       "y2": {"field": "y2"}, "color": {"field": "v", "type": "nominal", "legend": null}, "detail": {"field": "v"}}},
    {"data": {"name": "labels"}, "transform": [{"filter": "datum.p==4&&datum.u=='s'"}], "mark": {"type": "point", "filled": true, "size": 4, "opacity": 1, "stroke": "black", "strokeWidth": 0.6, "clip": true},
     "encoding": {
       "y": {"field": "y", "type": "quantitative", "scale": {"type": "log", "domain": [3.365e-6, 0.1552], "nice": false},
         "axis": {"orient": "right", "offset": 12.3, "domain": true, "domainColor": "#D9D9D9", "domainWidth": 21.4, "ticks": false, "labels": false, "grid": false,
           "title": "unit: seconds", "titleAngle": 90, "titleX": 0, "titleY": 165.65, "titleAlign": "center", "titleBaseline": "middle", "titleFontSize": 11.7, "titleColor": "#1A1A1A"}},
       "color": {"field": "v", "type": "nominal", "legend": null}, "shape": {"field": "v", "type": "nominal", "legend": null}}},
    {"data": {"name": "labels"}, "transform": [{"filter": "datum.p==4&&datum.u=='s'"}], "mark": {"type": "text", "align": "left", "baseline": "middle", "dx": 2, "font": "Liberation Sans", "clip": true}, "encoding": {"text": {"field": "v"}, "color": {"condition": {"test": "datum.v=='Before'||datum.v=='Regression'", "value": "black"}, "value": "white"}, "size": {"condition": {"test": "datum.v=='HEAD=fix_fwrite_length'", "value": 12.2}, "value": 16}}}
  ]}
],
"columns": 4,
"spacing": {"row": 9, "column": 8.27},
"bounds": "flush"
}
